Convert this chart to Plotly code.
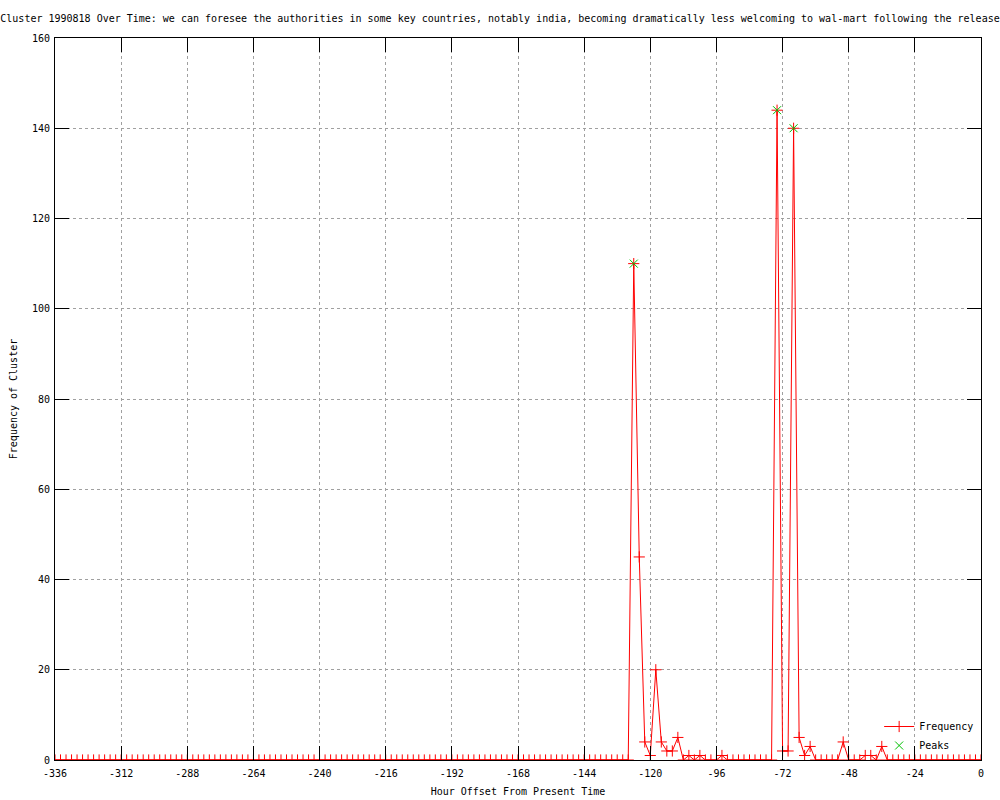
import plotly.graph_objects as go

# ---- data ----
hours = list(range(-336, 1, 2))  # sampled every 2 hours
frequency = [
    0, 0, 0, 0, 0, 0, 0, 0, 0, 0, 0, 0, 0, 0, 0, 0, 0, 0, 0, 0,
    0, 0, 0, 0, 0, 0, 0, 0, 0, 0, 0, 0, 0, 0, 0, 0, 0, 0, 0, 0,
    0, 0, 0, 0, 0, 0, 0, 0, 0, 0, 0, 0, 0, 0, 0, 0, 0, 0, 0, 0,
    0, 0, 0, 0, 0, 0, 0, 0, 0, 0, 0, 0, 0, 0, 0, 0, 0, 0, 0, 0,
    0, 0, 0, 0, 0, 0, 0, 0, 0, 0, 0, 0, 0, 0, 0, 0, 0, 0, 0, 0,
    0, 0, 0, 0,                                   # -336 .. -130
    0, 110, 45, 4, 1, 20, 4, 2, 2, 5, 0, 1, 0, 1, 0, 0, 0, 1,  # -128 .. -94
    0, 0, 0, 0, 0, 0, 0, 0, 0,                    # -92 .. -76
    144, 2, 2, 140, 5, 1, 3,                      # -74 .. -62
    0, 0, 0, 0, 0,                                # -60 .. -52
    4,                                            # -50
    0, 0, 0,                                      # -48 .. -44
    1, 1, 0, 3,                                   # -42 .. -36
    0, 0, 0, 0, 0, 0, 0, 0, 0, 0, 0, 0, 0, 0, 0, 0, 0, 0,  # -34 .. 0
]
assert len(frequency) == len(hours)

peak_hours = [-126, -74, -68]
peak_values = [110, 144, 140]

x_tickvals = [-336, -312, -288, -264, -240, -216, -192, -168, -144, -120, -96, -72, -48, -24, 0]
x_ticktext = ["-336", "-312", "-288", "-264", "-240", "-216", "-192", "-168", "-144",
              "-120", "-96", "-72", "-48", "-24", "0"]
y_tickvals = [0, 20, 40, 60, 80, 100, 120, 140, 160]

title_text = ("Cluster 1990818 Over Time: we can foresee the authorities in some key countries, "
              "notably india, becoming dramatically less welcoming to wal-mart following the release")

FONT = "DejaVu Sans Mono"

fig = go.Figure()
fig.add_trace(go.Scatter(
    x=hours, y=frequency, name="Frequency", mode="lines+markers",
    line=dict(color="#ff0000", width=1),
    marker=dict(symbol="cross-thin", size=8, line=dict(color="#ff0000", width=1), color="#ff0000"),
))
fig.add_trace(go.Scatter(
    x=peak_hours, y=peak_values, name="Peaks", mode="markers",
    marker=dict(symbol="x-thin", size=8, line=dict(color="#00c000", width=1), color="#00c000"),
))

axis_common = dict(
    showline=True, linecolor="black", linewidth=1, mirror="ticks",
    ticks="inside", ticklen=14, tickcolor="black", tickwidth=1,
    showgrid=True, gridcolor="#a0a0a0", gridwidth=1, griddash="3px,3px",
    zeroline=False, automargin=False,
    tickfont=dict(family=FONT, size=10, color="black"),
)

fig.update_layout(
    width=1000, height=800,
    paper_bgcolor="white", plot_bgcolor="white",
    margin=dict(l=55, r=19, t=38, b=40),
    font=dict(family=FONT, size=10, color="black"),
    title=dict(text=title_text, x=0.5, xref="container", xanchor="center",
               y=1 - 18 / 800, yref="container", yanchor="middle",
               font=dict(family=FONT, size=10, color="black")),
    xaxis=dict(range=[-336, 0], tickvals=x_tickvals, ticktext=x_ticktext,
               ticklabelstandoff=4,
               title=dict(text="Hour Offset From Present Time", standoff=9,
                          font=dict(family=FONT, size=10)),
               **axis_common),
    yaxis=dict(range=[0, 160], tickvals=y_tickvals,
               ticklabelstandoff=2,
               title=dict(text="Frequency of Cluster", standoff=12,
                          font=dict(family=FONT, size=10)),
               **axis_common),
    legend=dict(x=0.998, y=0.0, xanchor="right", yanchor="bottom",
                bgcolor="rgba(0,0,0,0)", font=dict(family=FONT, size=10),
                tracegroupgap=0, itemwidth=30),
    showlegend=True,
)

fig.write_html("out.html", config={"displayModeBar": False},
               post_script="document.body.style.margin='0';document.body.style.padding='0';")
